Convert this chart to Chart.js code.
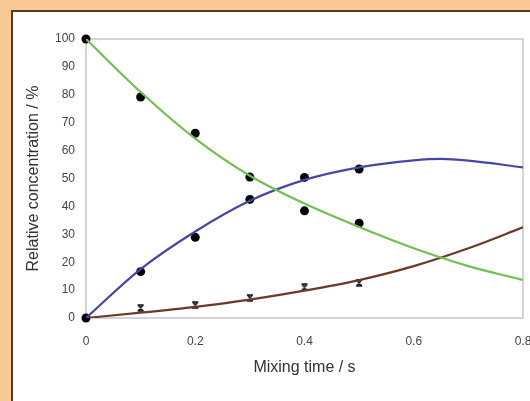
<!DOCTYPE html>
<html>
<head>
<meta charset="utf-8">
<script src="https://cdn.jsdelivr.net/npm/chart.js@4/dist/chart.umd.min.js"></script>
<style>
  html, body { margin: 0; padding: 0; overflow: hidden; }
  body { width: 530px; height: 401px; background: #f8c995; position: relative; }
  #panel {
    position: absolute; left: 11px; top: 10px; width: 530px; height: 400px;
    background: #fff; border-left: 2px solid #5a3b20; border-top: 2px solid #5a3b20;
  }
  #myChart { position: absolute; left: 0; top: 0; }
</style>
</head>
<body>
<div id="panel"></div>
<canvas id="myChart" width="560" height="401"></canvas>
<script>
// measured points (s, %)
var sampleTimes = [0, 0.1, 0.2, 0.3, 0.4, 0.5];
var reactantPts = [100, 79.2, 66.2, 50.5, 38.4, 34.0];
var intermedPts = [0, 16.6, 28.9, 42.5, 50.4, 53.4];
var productTimes = [0.1, 0.2, 0.3, 0.4, 0.5];
var productPts = [3.6, 4.6, 7.2, 11.0, 12.6];

// fitted curves
var fitTimes = [0, 0.1, 0.2, 0.3, 0.4, 0.5, 0.6, 0.7, 0.8];
var reactantFit = [100, 81, 64.3, 51, 41, 32.6, 25, 18.6, 13.6];
var productFit = [0, 1.9, 4.0, 6.6, 9.8, 13.6, 18.6, 25.0, 32.5];
var intermedTimes = [0, 0.1, 0.2, 0.3, 0.4, 0.5, 0.6, 0.65, 0.7, 0.8];
var intermedFit = [0, 17.5, 31, 42, 49.5, 54, 56.5, 57, 56.4, 54];

var xTicks = [0, 0.2, 0.4, 0.6, 0.8];

function pts(xs, ys) {
    return xs.map(function(x, i) { return {x: x, y: ys[i]}; });
}

// little hourglass marker for the product points
var hourglass = document.createElement('canvas');
hourglass.width = 8; hourglass.height = 8;
(function() {
    var c = hourglass.getContext('2d');
    c.strokeStyle = '#111';
    c.lineWidth = 1.5;
    c.beginPath();
    c.moveTo(1, 1); c.lineTo(7, 1);
    c.moveTo(1, 7); c.lineTo(7, 7);
    c.moveTo(1.5, 1); c.lineTo(6.5, 7);
    c.moveTo(6.5, 1); c.lineTo(1.5, 7);
    c.stroke();
})();

// light grey frame round the plot area
var frame = {
    id: 'frame',
    beforeDatasetsDraw: function(chart) {
        var a = chart.chartArea, c = chart.ctx;
        c.save();
        c.strokeStyle = '#b8b8b8';
        c.lineWidth = 1.2;
        c.strokeRect(a.left, a.top, a.right - a.left, a.bottom - a.top);
        c.restore();
    }
};

function curve(data, color) {
    return {
        type: 'line', data: data, borderColor: color, borderWidth: 2.2,
        pointRadius: 0, fill: false, cubicInterpolationMode: 'monotone'
    };
}
function dots(data, style) {
    return {
        type: 'scatter', data: data, showLine: false, clip: false,
        pointStyle: style || 'circle', pointRadius: 4.5,
        backgroundColor: '#000', borderColor: '#000', borderWidth: 0
    };
}

var ctx = document.getElementById('myChart').getContext('2d');
var chart = new Chart(ctx, {
    data: {
        datasets: [
            curve(pts(fitTimes, reactantFit), '#72c050'),
            curve(pts(intermedTimes, intermedFit), '#4646a6'),
            curve(pts(fitTimes, productFit), '#6a3a26'),
            dots(pts(sampleTimes, reactantPts)),
            dots(pts(sampleTimes, intermedPts)),
            dots(pts(productTimes, productPts), hourglass)
        ]
    },
    plugins: [frame],
    options: {
        responsive: false,
        animation: false,
        layout: { padding: { left: 20, top: 39, right: 37, bottom: 20 } },
        plugins: { legend: { display: false }, tooltip: { enabled: false } },
        scales: {
            x: {
                type: 'linear', min: 0, max: 0.8,
                grid: { display: false },
                border: { display: false },
                afterFit: function(s) { s.height = 63; },
                afterBuildTicks: function(s) { s.ticks = xTicks.map(function(v) { return {value: v}; }); },
                ticks: { padding: 8, color: '#444', font: { family: 'Liberation Sans, Arial', size: 12 },
                         maxRotation: 0,
                         callback: function(v) { return String(v); } },
                title: { display: true, text: 'Mixing time / s', color: '#333', padding: 4,
                         font: { family: 'Liberation Sans, Arial', size: 16 } }
            },
            y: {
                min: 0, max: 100,
                grid: { display: false },
                border: { display: false },
                afterFit: function(s) { s.width = 66; },
                ticks: { stepSize: 10, padding: 3, color: '#444', font: { family: 'Liberation Sans, Arial', size: 12 } },
                title: { display: true, text: 'Relative concentration / %', color: '#333', padding: 4,
                         font: { family: 'Liberation Sans, Arial', size: 16 } }
            }
        }
    }
});
</script>
</body>
</html>
